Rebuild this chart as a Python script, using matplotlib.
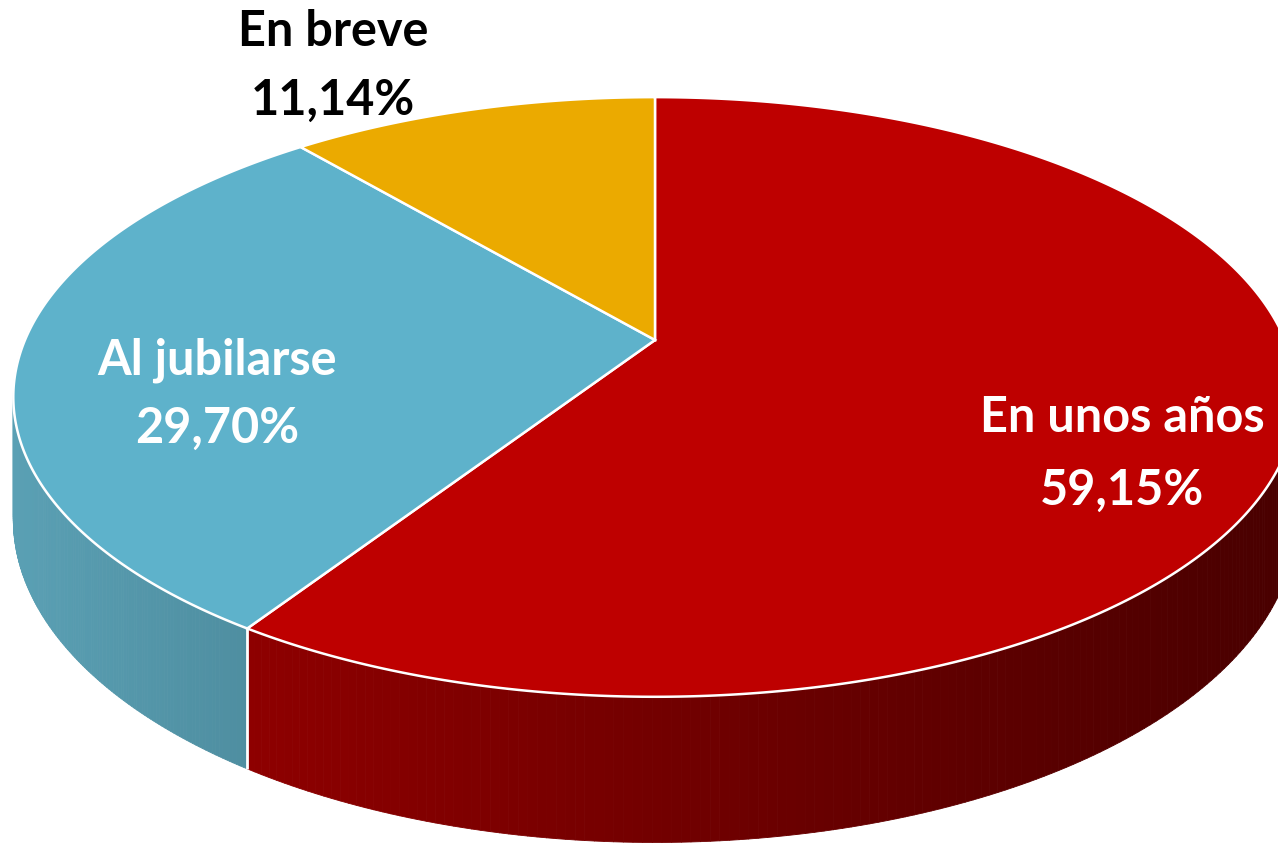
import numpy as np
import matplotlib.pyplot as plt
from matplotlib.patches import Polygon
from matplotlib.collections import PolyCollection

# datos del grafico
categorias = ["En unos años", "Al jubilarse", "En breve"]
valores = [59.15, 29.70, 11.14]
etiquetas_pct = ["59,15%", "29,70%", "11,14%"]
colores_top = ["#BE0000", "#5EB2CB", "#EBAA00"]
colores_lado = [("#8E0000", "#480000"), ("#5AA0B4", "#4C8A9C"), ("#C48E00", "#9A7000")]
color_texto = ["white", "white", "black"]
pos_texto = [(1122, 418, 490), (217, 360, 428), (333, 32, 100)]

# geometria de la torta (en pixeles)
cx, cy = 655, 340
A, B, k, H = 630, 289, 0.19, 118


def proyectar(t, z=0.0):
    X = np.cos(t)
    Y = np.sin(t)
    f = 1.0 / (1.0 + k * Y)
    return cx + A * X * f, cy - B * Y * f + z * H * f


fig = plt.figure(figsize=(12.78, 8.44), dpi=100)
ax = fig.add_axes([0, 0, 1, 1])
ax.set_xlim(0, 1278)
ax.set_ylim(844, 0)
ax.axis("off")

total = sum(valores)
inicio = 90.0
angulos = []
for v in valores:
    fin = inicio - v / total * 360.0
    angulos.append((inicio, fin))
    inicio = fin

# paredes laterales
for i, (a0, a1) in enumerate(angulos):
    ts = np.radians(np.linspace(a0, a1, 300))
    quads = []
    cols = []
    c_izq = np.array(plt.matplotlib.colors.to_rgb(colores_lado[i][0]))
    c_der = np.array(plt.matplotlib.colors.to_rgb(colores_lado[i][1]))
    xs_arc = proyectar(ts)[0]
    xmin, xmax = xs_arc.min(), xs_arc.max()
    for ta, tb in zip(ts[:-1], ts[1:]):
        if np.sin(ta) > 0.25 and np.sin(tb) > 0.25:
            continue
        xa, ya = proyectar(ta)
        xb, yb = proyectar(tb)
        xa2, ya2 = proyectar(ta, 1)
        xb2, yb2 = proyectar(tb, 1)
        quads.append([(xa, ya), (xb, yb), (xb2, yb2), (xa2, ya2)])
        s = ((xa + xb) / 2 - xmin) / max(xmax - xmin, 1)
        cols.append(c_izq * (1 - s) + c_der * s)
    if quads:
        ax.add_collection(PolyCollection(quads, facecolors=cols, edgecolors=cols, linewidths=0.6))

# lineas blancas en las uniones visibles del lateral
for a0, a1 in angulos:
    t = np.radians(a1)
    if np.sin(t) < 0:
        x0, y0 = proyectar(t)
        x1, y1 = proyectar(t, 1)
        ax.plot([x0, x1], [y0, y1], color="white", lw=2, solid_capstyle="butt")

# caras superiores
for i, (a0, a1) in enumerate(angulos):
    ts = np.radians(np.linspace(a0, a1, 400))
    xs, ys = proyectar(ts)
    pts = [(cx, cy)] + list(zip(xs, ys))
    ax.add_patch(Polygon(pts, closed=True, facecolor=colores_top[i], edgecolor="white", lw=1.8))

# etiquetas
for i in range(len(categorias)):
    x, y1, y2 = pos_texto[i]
    ax.text(x, y1, categorias[i], ha="center", va="center", fontsize=35,
            fontweight="bold", family=["Lato", "DejaVu Sans"], color=color_texto[i])
    ax.text(x, y2, etiquetas_pct[i], ha="center", va="center", fontsize=35,
            fontweight="bold", family=["Lato", "DejaVu Sans"], color=color_texto[i])

fig.savefig("out.png", dpi=100)
